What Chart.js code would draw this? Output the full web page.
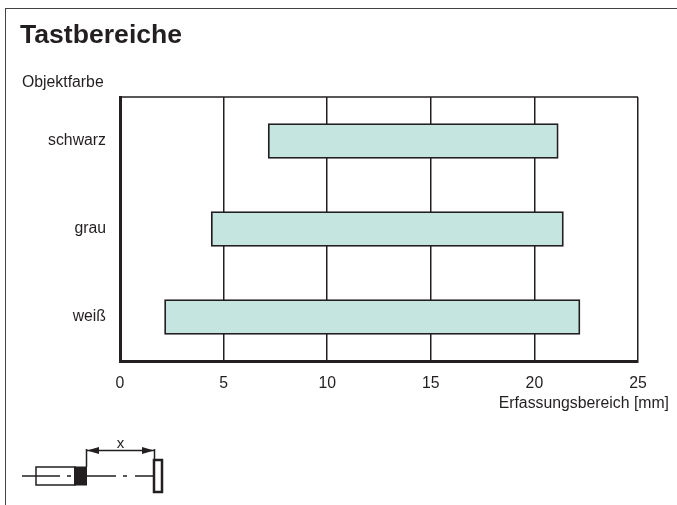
<!DOCTYPE html>
<html lang="de">
<head>
<meta charset="utf-8">
<title>Tastbereiche</title>
<script src="https://cdn.jsdelivr.net/npm/chart.js@4"></script>
<style>
    html, body { margin: 0; padding: 0; background: #fff; }
    #wrap { position: relative; width: 677px; height: 505px; overflow: hidden; font-family: "Liberation Sans", Arial, sans-serif; color: #231f20; }
    #frame { position: absolute; left: 4.5px; top: 8px; width: 700px; height: 600px; border: 1.5px solid #444; box-sizing: border-box; }
    canvas { position: absolute; left: 0; top: 0; }
    .txt { position: absolute; white-space: nowrap; line-height: 1; }
    #sensor { position: absolute; left: 0; top: 400px; }
</style>
</head>
<body>
<div id="wrap">
    <div id="frame"></div>
    <canvas id="chartTast" width="677" height="505"></canvas>
    <div class="txt" style="left:20px;top:21px;font-size:26.6px;font-weight:bold">Tastbereiche</div>
    <div class="txt" style="left:22px;top:74px;font-size:15.8px">Objektfarbe</div>
    <div class="txt" style="right:8px;top:395px;font-size:15.8px">Erfassungsbereich [mm]</div>
    <svg id="sensor" width="200" height="105" fill="none" stroke="#231f20">
        <path d="M22 76H60M67 76H71M87 76H116M123 76H127M135 76H154" stroke-width="1.5"/>
        <rect x="36" y="67" width="39" height="18" stroke-width="1.5"/>
        <rect x="74" y="66.5" width="13" height="19" fill="#231f20" stroke="none"/>
        <rect x="154" y="60" width="8" height="32" stroke-width="2.5"/>
        <path d="M86.5 67V49M154.5 60V49M87 50.5H154" stroke-width="1.5"/>
        <path d="M87 50.5L99 47V54ZM154 50.5L142 47V54Z" fill="#231f20" stroke="none"/>
        <text x="120.5" y="48" font-size="15" fill="#231f20" stroke="none" text-anchor="middle">x</text>
    </svg>
</div>
<script>
const objektFarben = ['schwarz', 'grau', 'weiß'];
const bereichVon = [7.15, 4.4, 2.15];
const bereichBis = [21.15, 21.4, 22.2];
const xTicks = [0, 5, 10, 15, 20, 25];

const lineColor = '#231f20';
const labelFont = { family: '"Liberation Sans", Arial, sans-serif', size: 15.8 };

// obere Linie des Diagramms, die Skalen zeichnen sie nicht selbst
const topLine = {
    id: 'topLine',
    afterDatasetsDraw(chart) {
        const { ctx, chartArea } = chart;
        ctx.save();
        ctx.strokeStyle = lineColor;
        ctx.lineWidth = 1.5;
        ctx.beginPath();
        ctx.moveTo(chartArea.left, chartArea.top);
        ctx.lineTo(chartArea.right, chartArea.top);
        ctx.stroke();
        ctx.restore();
    }
};

const ctx = document.getElementById('chartTast').getContext('2d');
const myChart = new Chart(ctx, {
    type: 'bar',
    data: {
        labels: objektFarben,
        datasets: [{
            data: objektFarben.map((x, i) => [bereichVon[i], bereichBis[i]]),
            backgroundColor: '#c5e5e0',
            borderColor: lineColor,
            borderWidth: 1.8,
            borderSkipped: false,
            barThickness: 35
        }]
    },
    options: {
        indexAxis: 'y',
        responsive: false,
        animation: false,
        devicePixelRatio: 1,
        layout: { padding: { left: 0, top: 97, right: 39, bottom: 104 } },
        plugins: { legend: { display: false }, tooltip: { enabled: false }, title: { display: false } },
        scales: {
            x: {
                type: 'linear',
                min: 0,
                max: 25,
                afterBuildTicks: (axis) => { axis.ticks = xTicks.map((v) => ({ value: v })); },
                afterFit: (axis) => { axis.height = 40; },
                grid: { color: lineColor, lineWidth: 1.5, drawTicks: false },
                border: { color: lineColor, width: 3 },
                ticks: { color: lineColor, font: labelFont, padding: 13, maxRotation: 0 }
            },
            y: {
                type: 'category',
                afterFit: (axis) => { axis.width = 120; },
                grid: { display: false, drawTicks: false },
                border: { color: lineColor, width: 3 },
                ticks: { color: lineColor, font: labelFont, padding: 14 }
            }
        }
    },
    plugins: [topLine]
});
</script>
</body>
</html>
